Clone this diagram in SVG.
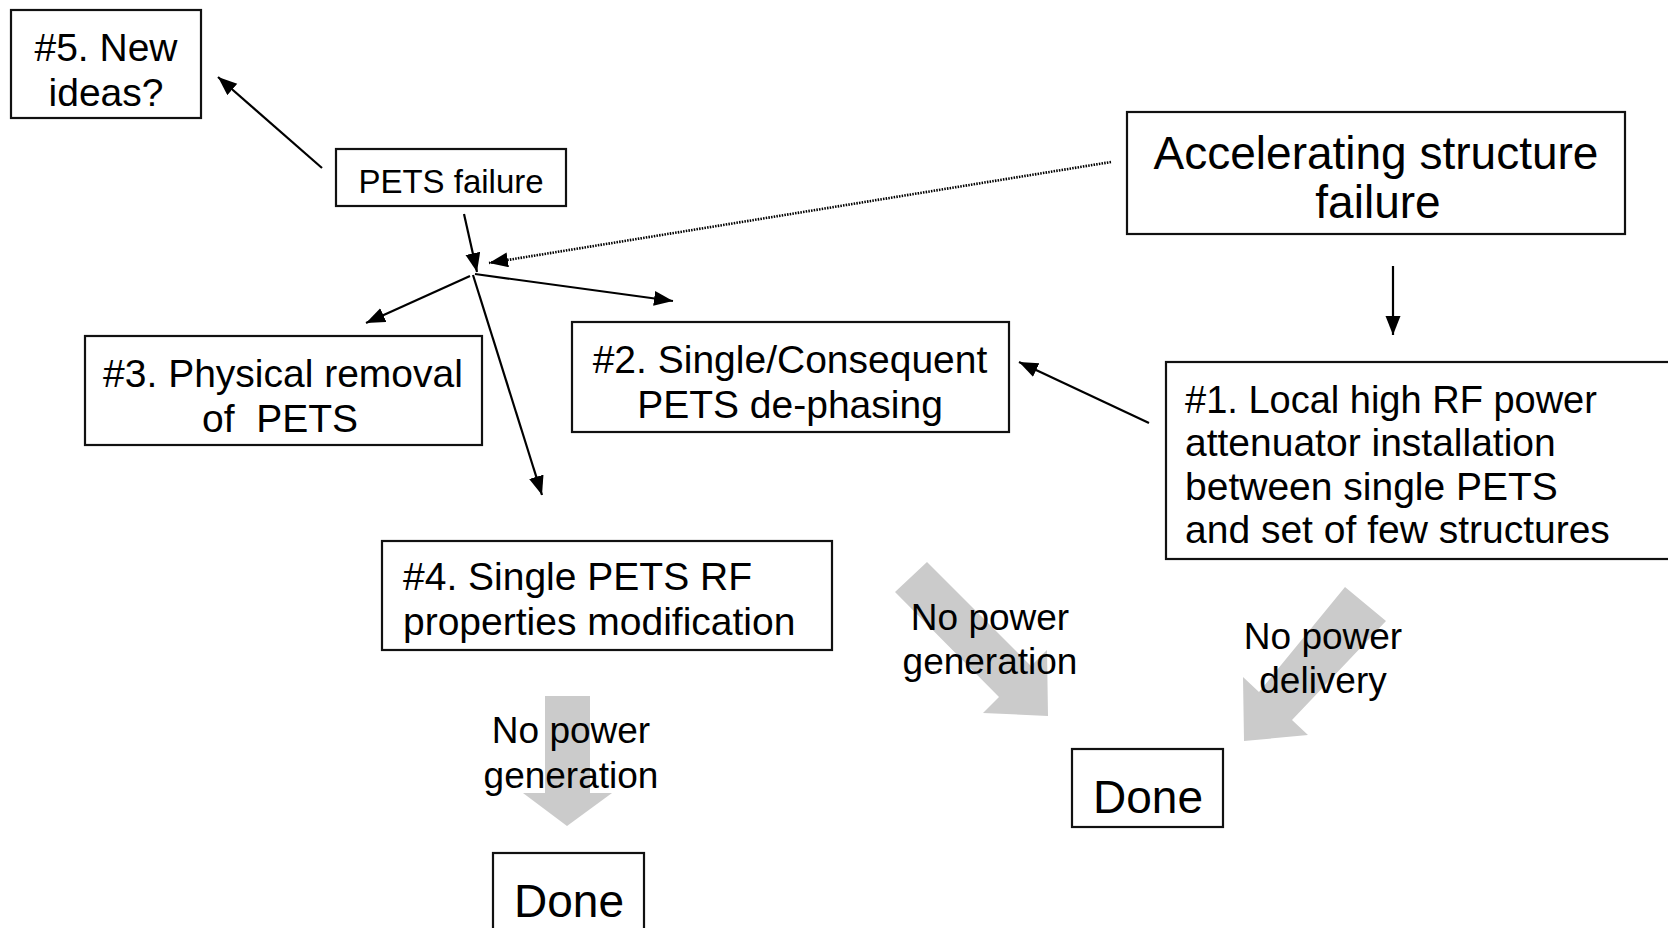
<svg xmlns="http://www.w3.org/2000/svg" width="1668" height="928" viewBox="0 0 1668 928">
  <style>
    text { font-family: "Liberation Sans", "DejaVu Sans", sans-serif; fill: #000; }
    .box { fill: #fff; stroke: #111; stroke-width: 2.2; }
    .c { text-anchor: middle; }
    .l { text-anchor: start; }
    .t39 { font-size: 39px; }
    .t38 { font-size: 38px; }
    .t33 { font-size: 33px; }
    .t46 { font-size: 46px; }
    .lbl { font-size: 37px; text-anchor: middle; }
    .edge { stroke: #000; stroke-width: 2.2; fill: none; marker-end: url(#head); }
    .dotted { stroke: #000; stroke-width: 2.6; fill: none; stroke-dasharray: 1.5 1.2; marker-end: url(#head); }
    .big { fill: #cbcbcb; stroke: none; }
  </style>
  <defs>
    <marker id="head" markerUnits="userSpaceOnUse" markerWidth="20" markerHeight="16" refX="19" refY="7.5" orient="auto">
      <path d="M0,0 L19,7.5 L0,15 z" fill="#000"/>
    </marker>
  </defs>

  <rect width="1668" height="928" fill="#fff"/>

  <!-- wide grey outcome arrows (drawn under the labels) -->
  <g id="outcome-arrows">
    <polygon class="big" points="545,696 590,696 590,793 612,793 567,826 523,793 545,793"/>
    <polygon class="big" points="895,592 927,562 1031,666 1047,650 1048,716 983,713 999,697"/>
    <polygon class="big" points="1345,587 1386,621 1292,720 1308,735 1244,741 1243,677 1259,692"/>
  </g>

  <!-- connectors -->
  <g id="connectors">
    <line class="edge" x1="322" y1="168" x2="218" y2="77"/>
    <line class="edge" x1="464" y1="214" x2="477" y2="272"/>
    <line class="dotted" x1="1111" y1="162" x2="489" y2="263"/>
    <line class="edge" x1="470" y1="276" x2="366" y2="323"/>
    <line class="edge" x1="475" y1="274" x2="673" y2="301"/>
    <line class="edge" x1="473" y1="275" x2="542" y2="495"/>
    <line class="edge" x1="1393" y1="266" x2="1393" y2="335"/>
    <line class="edge" x1="1149" y1="423" x2="1019" y2="362"/>
  </g>

  <g id="node-new-ideas">
    <rect class="box" x="11" y="10" width="190" height="108"/>
    <text class="c t39" x="106" y="61">#5. New</text>
    <text class="c t39" x="106" y="106">ideas?</text>
  </g>

  <g id="node-pets-failure">
    <rect class="box" x="336" y="149" width="230" height="57"/>
    <text class="c t33" x="451" y="193">PETS failure</text>
  </g>

  <g id="node-acc-failure">
    <rect class="box" x="1127" y="112" width="498" height="122"/>
    <text class="c t46" x="1376" y="169">Accelerating structure</text>
    <text class="c t46" x="1378" y="218">failure</text>
  </g>

  <g id="node-attenuator">
    <rect class="box" x="1166" y="362" width="520" height="197"/>
    <text class="l t38" x="1185" y="413">#1. Local high RF power</text>
    <text class="l t39" x="1185" y="456">attenuator installation</text>
    <text class="l t39" x="1185" y="500">between single PETS</text>
    <text class="l t39" x="1185" y="543">and set of few structures</text>
  </g>

  <g id="node-dephasing">
    <rect class="box" x="572" y="322" width="437" height="110"/>
    <text class="c t39" x="790" y="373">#2. Single/Consequent</text>
    <text class="c t39" x="790" y="418">PETS de-phasing</text>
  </g>

  <g id="node-removal">
    <rect class="box" x="85" y="336" width="397" height="109"/>
    <text class="c t39" x="283" y="387">#3. Physical removal</text>
    <text class="c t39" x="280" y="432" style="white-space:pre">of  PETS</text>
  </g>

  <g id="node-modification">
    <rect class="box" x="382" y="541" width="450" height="109"/>
    <text class="l t39" x="403" y="590">#4. Single PETS RF</text>
    <text class="l t39" x="403" y="635">properties modification</text>
  </g>

  <g id="node-done-right">
    <rect class="box" x="1072" y="749" width="151" height="78"/>
    <text class="c t46" x="1148" y="813">Done</text>
  </g>

  <g id="node-done-bottom">
    <rect class="box" x="493" y="853" width="151" height="85"/>
    <text class="c t46" x="569" y="917">Done</text>
  </g>

  <g id="outcome-labels">
    <text class="lbl" x="571" y="743">No power</text>
    <text class="lbl" x="571" y="788">generation</text>
    <text class="lbl" x="990" y="630">No power</text>
    <text class="lbl" x="990" y="674">generation</text>
    <text class="lbl" x="1323" y="649">No power</text>
    <text class="lbl" x="1323" y="693">delivery</text>
  </g>
</svg>
